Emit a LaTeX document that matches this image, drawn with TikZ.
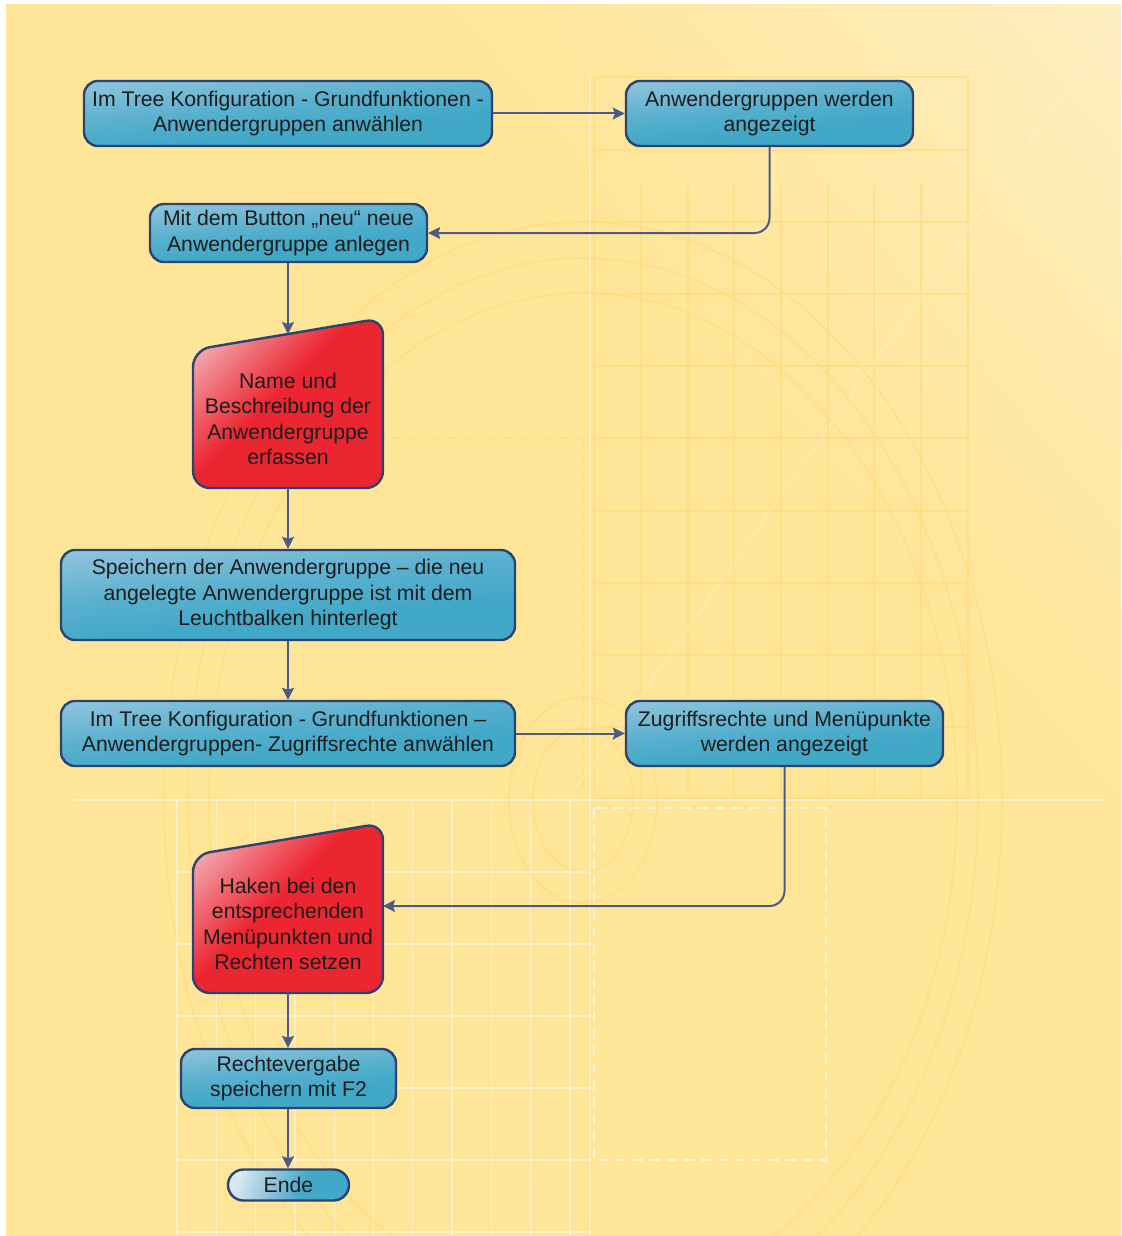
\documentclass[tikz,border=0pt]{standalone}
\usepackage{fontspec}
\setmainfont{Liberation Sans}
\usetikzlibrary{arrows.meta}
\definecolor{bgA}{HTML}{FFE597}
\definecolor{bgB}{HTML}{FEF0C8}
\definecolor{gridC}{HTML}{FFDA78}
\definecolor{lineC}{HTML}{4E5A86}
\definecolor{borderC}{HTML}{2B4373}
\definecolor{bLight}{HTML}{BDD3E6}
\definecolor{bMid}{HTML}{8CC2DB}
\definecolor{bMid2}{HTML}{58B0CE}
\definecolor{bDark}{HTML}{42A8C8}
\definecolor{eLight}{HTML}{D6E8F1}
\definecolor{rLight}{HTML}{F7C8CD}
\definecolor{rMid}{HTML}{F06A73}
\definecolor{rDark}{HTML}{EC2631}
\definecolor{txtC}{HTML}{1C1C1C}
\pgfdeclareverticalshading{blueshade}{100bp}{color(0bp)=(bDark); color(40bp)=(bDark); color(55bp)=(bMid2); color(75bp)=(bMid); color(92bp)=(bLight); color(100bp)=(bLight)}
\pgfdeclarehorizontalshading{endeshade}{100bp}{color(0bp)=(eLight); color(25bp)=(eLight); color(42bp)=(bMid); color(58bp)=(bDark); color(100bp)=(bDark)}
\pgfdeclarehorizontalshading{redshade}{100bp}{color(0bp)=(rLight); color(16bp)=(rLight); color(33bp)=(rMid); color(46bp)=(rDark); color(100bp)=(rDark)}
\pgfdeclarehorizontalshading{bgshade}{100bp}{color(0bp)=(bgA); color(62bp)=(bgA); color(90bp)=(bgB); color(100bp)=(bgB)}
\tikzset{
  txtfont/.style={font=\fontsize{21.2pt}{25.5pt}\selectfont, text=txtC, align=center},
  box/.style={txtfont, draw=borderC, line width=2.4pt, rounded corners=14pt, shade, shading=blueshade, shading angle=6, inner sep=0pt},
  endebox/.style={box, rounded corners=15.5pt, shading=endeshade, shading angle=-20},
  redbox/.style={draw=borderC, line width=2.4pt, rounded corners=17pt, shade, shading=redshade, shading angle=-45},
  redtxt/.style={txtfont, inner sep=0pt},
  conn/.style={draw=lineC, line width=2pt, -{Stealth[length=12pt,width=12pt,inset=2pt]}},
  gridline/.style={draw=gridC, line width=1.6pt, opacity=0.6},
  whiteline/.style={draw=white, line width=1.3pt, opacity=0.45},
}
\begin{document}
\begin{tikzpicture}[x=1pt,y=-1pt]
\useasboundingbox (0,0) rectangle (1121,1236);
% background
\fill[white] (0,0) rectangle (1121,1236);
\shade[shading=bgshade, shading angle=40] (6,5) rectangle (1121,1236);
\begin{scope}
\clip (6,5) rectangle (1121,1236);
% upper right grid
\draw[gridline] (594,77) rectangle (968,798);
\foreach \yy in {150,222,294,366,438,511,583,655,727} \draw[gridline] (594,\yy) -- (968,\yy);
\foreach \xx in {641,688,734,781,828,874,921} \draw[gridline] (\xx,185) -- (\xx,798);
% ellipses
\draw[gridline] (583,800) ellipse [x radius=419, y radius=578];
\draw[gridline] (583,800) ellipse [x radius=395, y radius=542];
\draw[gridline] (583,800) ellipse [x radius=374, y radius=507];
\draw[gridline] (583,800) ellipse [x radius=50, y radius=72];
\draw[gridline] (583,800) ellipse [x radius=74, y radius=103];
\draw[gridline, dashed, dash pattern=on 8pt off 6pt] (350,438) -- (583,438) -- (583,790);
% lower left white grid
\foreach \k in {0,...,10} \draw[whiteline] (177+39.3*\k,800) -- (177+39.3*\k,1236);
\foreach \yy in {872,944,1016,1088,1160,1232} \draw[whiteline] (177,\yy) -- (590,\yy);
\draw[whiteline] (75,800) -- (1105,800);
\draw[whiteline, opacity=0.3] (590,77) -- (590,1236);
\draw[whiteline, line width=1pt, opacity=0.3] (1121,10) -- (575,790);
\draw[whiteline, dashed, dash pattern=on 10pt off 7pt, opacity=0.6] (594,808) rectangle (826,1160);
\end{scope}

% red shapes
\path[redbox] (193,350) -- (383,318) -- (383,488) -- (193,488) -- cycle;
\path[redbox] (193,855) -- (383,823) -- (383,993) -- (193,993) -- cycle;
\coordinate (r1top) at (288,334);
\coordinate (r1bot) at (288,488);
\coordinate (r2bot) at (288,993);
\coordinate (r2right) at (383,906);

% nodes
\node[box, minimum width=408pt, minimum height=65pt] (b1) at (288,113.5) {Im Tree Konfiguration - Grundfunktionen -\\Anwendergruppen anwählen};
\node[box, minimum width=287pt, minimum height=65pt] (b2) at (769.5,113.5) {Anwendergruppen werden\\angezeigt};
\node[box, minimum width=277pt, minimum height=58pt] (b3) at (288.5,233) {Mit dem Button „neu“ neue\\Anwendergruppe anlegen};
\node[redtxt] (r1) at (288,419) {Name und\\Beschreibung der\\Anwendergruppe\\erfassen};
\node[box, minimum width=454pt, minimum height=90pt] (b4) at (288,595) {Speichern der Anwendergruppe – die neu\\angelegte Anwendergruppe ist mit dem\\Leuchtbalken hinterlegt};
\node[box, minimum width=454pt, minimum height=65pt] (b5) at (288,733.5) {Im Tree Konfiguration - Grundfunktionen –\\Anwendergruppen- Zugriffsrechte anwählen};
\node[box, minimum width=317pt, minimum height=65pt] (b6) at (784.5,733.5) {Zugriffsrechte und Menüpunkte\\werden angezeigt};
\node[redtxt] (r2) at (288,924) {Haken bei den\\entsprechenden\\Menüpunkten und\\Rechten setzen};
\node[box, minimum width=215pt, minimum height=59pt] (b7) at (288.5,1078.5) {Rechtevergabe\\speichern mit F2};
\node[endebox, minimum width=121pt, minimum height=31pt] (ende) at (288.5,1185) {Ende};

% connectors
\draw[conn] (b1.east) -- (b2.west);
\draw[conn, rounded corners=15pt] (b2.south) |- (b3.east);
\draw[conn] (b3.south -| r1top) -- (r1top);
\draw[conn] (r1bot) -- (b4.north -| r1bot);
\draw[conn] (b4.south) -- (b5.north);
\draw[conn] (b5.east) -- (b6.west);
\draw[conn, rounded corners=15pt] (b6.south) |- (r2right);
\draw[conn] (r2bot) -- (b7.north -| r2bot);
\draw[conn] (b7.south -| r2bot) -- (ende.north -| r2bot);
\end{tikzpicture}
\end{document}
